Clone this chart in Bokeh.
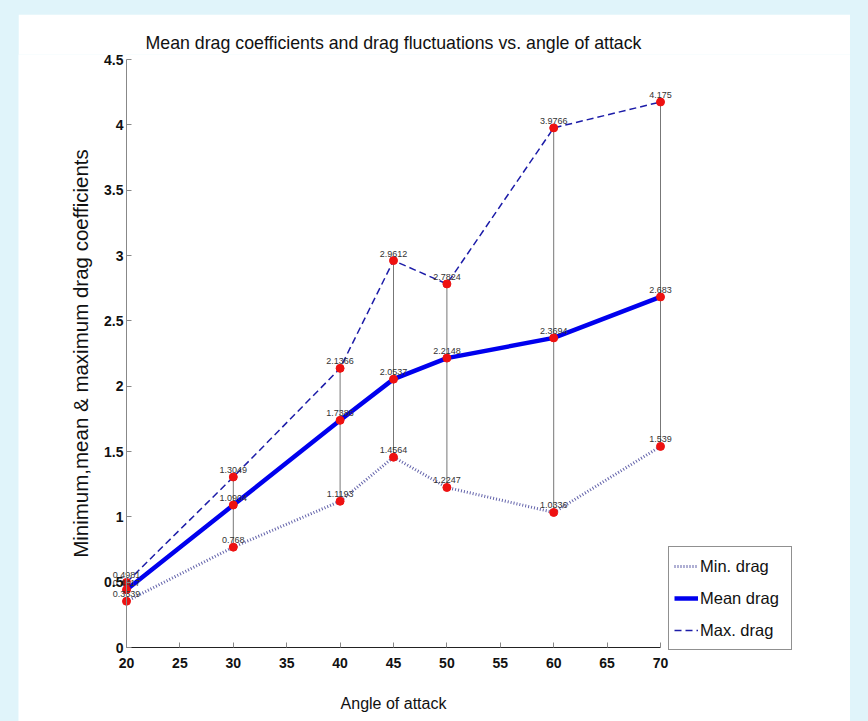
from bokeh.plotting import figure
from bokeh.models import ColumnDataSource, Range1d, Legend, LegendItem, FixedTicker
from bokeh.core.properties import value
from bokeh.embed import file_html
from bokeh.resources import INLINE

angles = [20, 30, 40, 45, 50, 60, 70]
min_drag = [0.3539, 0.768, 1.1193, 1.4564, 1.2247, 1.0336, 1.539]
mean_drag = [0.4417, 1.0904, 1.7386, 2.0537, 2.2148, 2.3694, 2.683]
max_drag = [0.4981, 1.3049, 2.1366, 2.9612, 2.7824, 3.9766, 4.175]
x_ticks = [20, 25, 30, 35, 40, 45, 50, 55, 60, 65, 70]
y_ticks = [0, 0.5, 1, 1.5, 2, 2.5, 3, 3.5, 4, 4.5]

NARROW = "'Liberation Sans Narrow', 'Arial Narrow', 'Liberation Sans', sans-serif"
SANS = "'Liberation Sans', Arial, sans-serif"

# frame covers the whole figure below the title; axes are pinned at x=20 / y=0
p = figure(width=832, height=707, output_backend="svg", toolbar_location=None,
           x_range=Range1d(9.8876, 87.790), y_range=Range1d(-0.56633, 4.5383),
           min_border_left=0, min_border_right=0, min_border_top=40, min_border_bottom=0,
           margin=(14, 0, 0, 18))
p.title.text = "Mean drag coefficients and drag fluctuations vs. angle of attack"
p.title.align = "left"
p.title.offset = 127
p.title.text_font = NARROW
p.title.text_font_size = "17.75px"
p.title.text_font_style = "normal"
p.title.text_color = "#111111"
p.title.standoff = 3
p.background_fill_color = "white"
p.border_fill_color = "white"
p.outline_line_color = None
p.grid.visible = False

for ax in (p.xaxis[0], p.yaxis[0]):
    ax.major_tick_in = 5
    ax.major_tick_out = 0
    ax.minor_tick_line_color = None
    ax.major_tick_line_color = "#888888"
    ax.major_label_text_font = NARROW
    ax.major_label_text_font_style = "bold"
    ax.major_label_text_font_size = "14px"
    ax.major_label_text_color = "#111111"
    ax.axis_label_text_font_style = "normal"
    ax.axis_label_text_color = "#111111"

p.xaxis.ticker = FixedTicker(ticks=x_ticks)
p.yaxis.ticker = FixedTicker(ticks=y_ticks)
p.yaxis.major_label_overrides = {0: "0", 1: "1", 2: "2", 3: "3", 4: "4"}
p.xaxis.fixed_location = 0
p.yaxis.fixed_location = 20
p.xaxis.bounds = (20, 70)
p.yaxis.bounds = (0, 4.5)
p.xaxis.axis_line_color = "#222222"
p.yaxis.axis_line_color = "#888888"
p.xaxis.major_label_standoff = 10
p.yaxis.major_label_standoff = 3
p.xaxis.axis_label = "Angle of attack"
p.xaxis.axis_label_text_font = NARROW
p.xaxis.axis_label_text_font_size = "16px"
p.xaxis.axis_label_standoff = 24
p.yaxis.axis_label = "Minimum,mean & maximum drag coefficients"
p.yaxis.axis_label_text_font = SANS
p.yaxis.axis_label_text_font_size = "20.5px"
p.yaxis.axis_label_standoff = 9

src = ColumnDataSource(dict(
    x=angles, mn=min_drag, me=mean_drag, mx=max_drag,
    lmn=["{:g}".format(v) for v in min_drag],
    lme=["{:g}".format(v) for v in mean_drag],
    lmx=["{:g}".format(v) for v in max_drag],
))

p.segment(x0="x", y0="mn", x1="x", y1="mx", source=src, line_color="#777777", line_width=1)

r_min = p.line("x", "mn", source=src, line_color="#6262aa", line_width=3, line_dash="1 2")
r_mean = p.line("x", "me", source=src, line_color="#0000ee", line_width=4.5)
r_max = p.line("x", "mx", source=src, line_color="#1c1ca8", line_width=1.5, line_dash="7 4")

for col in ("mn", "me", "mx"):
    p.scatter("x", col, source=src, size=8, color="#ee1111")

for col, lab in (("mn", "lmn"), ("me", "lme"), ("mx", "lmx")):
    p.text("x", col, text=lab, source=src, text_align="center", text_baseline="bottom",
           y_offset=-4, text_font=value(SANS), text_font_size="9px", text_color="#333333")

legend = Legend(items=[
    LegendItem(label="Min. drag", renderers=[r_min]),
    LegendItem(label="Mean drag", renderers=[r_mean]),
    LegendItem(label="Max. drag", renderers=[r_max]),
], location=(650, 71))
legend.label_text_font = NARROW
legend.label_text_font_size = "16.5px"
legend.label_text_color = "#111111"
legend.glyph_width = 24
legend.glyph_height = 28
legend.label_height = 28
legend.label_width = 86
legend.label_standoff = 2
legend.spacing = 4
legend.padding = 5
legend.margin = 0
legend.border_line_color = "#222222"
legend.border_line_width = 1
legend.background_fill_color = "white"
legend.background_fill_alpha = 1
p.add_layout(legend, "center")

html = file_html(p, INLINE)
html = html.replace("</head>", "<style>html,body{margin:0;padding:0;background:#e0f4fa;}</style></head>", 1)
open("out.html", "w").write(html)
